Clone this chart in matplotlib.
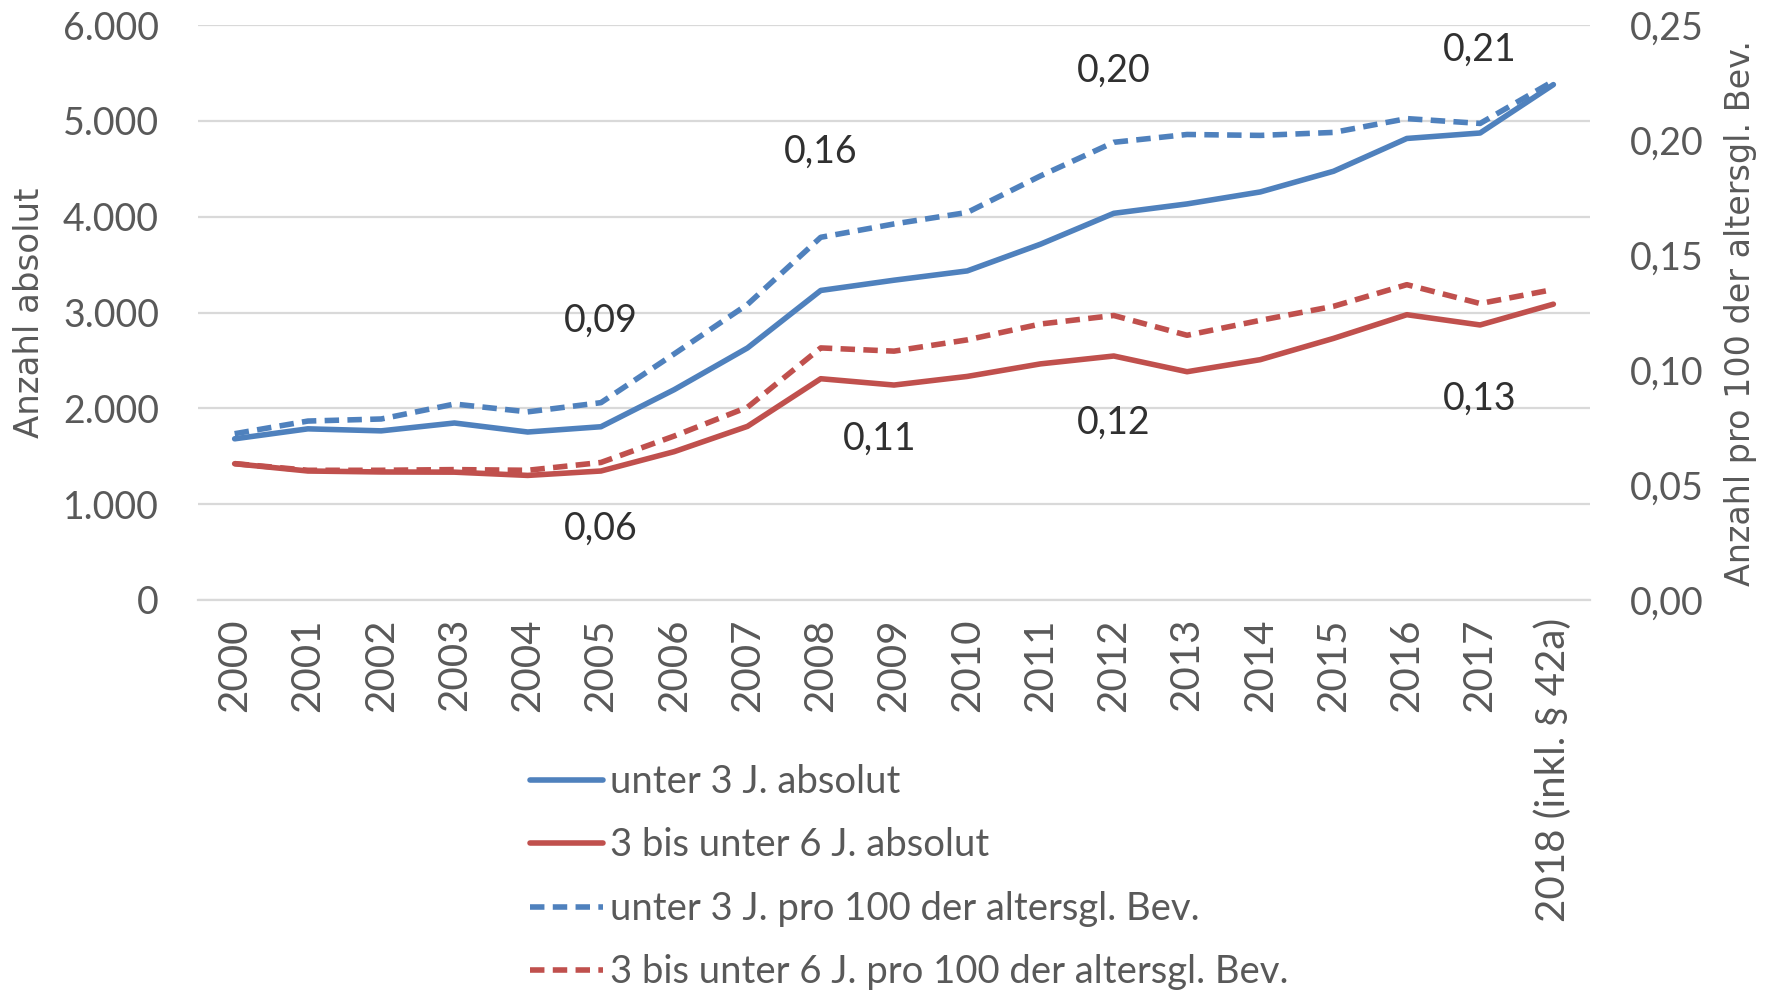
import matplotlib
matplotlib.use("Agg")
import matplotlib.pyplot as plt

years = ["2000", "2001", "2002", "2003", "2004", "2005", "2006", "2007", "2008",
         "2009", "2010", "2011", "2012", "2013", "2014", "2015", "2016", "2017",
         "2018 (inkl. § 42a)"]

u3_abs = [1682, 1786, 1765, 1847, 1753, 1808, 2195, 2630, 3230, 3337, 3434,
          3713, 4035, 4133, 4258, 4474, 4816, 4873, 5378]
u6_abs = [1422, 1346, 1336, 1334, 1300, 1346, 1548, 1812, 2309, 2243, 2333,
          2464, 2546, 2382, 2508, 2730, 2977, 2870, 3087]
u3_rate = [0.0723, 0.0778, 0.0787, 0.0852, 0.0818, 0.0858, 0.1070, 0.1285,
           0.1577, 0.1635, 0.1685, 0.1844, 0.1990, 0.2024, 0.2020, 0.2033,
           0.2093, 0.2072, 0.2256]
u6_rate = [0.0593, 0.0564, 0.0564, 0.0567, 0.0564, 0.0598, 0.0713, 0.0838,
           0.1096, 0.1082, 0.1131, 0.1200, 0.1237, 0.1151, 0.1216, 0.1277,
           0.1371, 0.1289, 0.1350]

series_names = ["unter 3 J. absolut", "3 bis unter 6 J. absolut",
                "unter 3 J. pro 100 der altersgl. Bev.",
                "3 bis unter 6 J. pro 100 der altersgl. Bev."]

left_ticks = [0, 1000, 2000, 3000, 4000, 5000, 6000]
left_labels = ["0", "1.000", "2.000", "3.000", "4.000", "5.000", "6.000"]
right_ticks = [0.0, 0.05, 0.10, 0.15, 0.20, 0.25]
right_labels = ["0,00", "0,05", "0,10", "0,15", "0,20", "0,25"]

# data labels: (x position in category units, y position on right axis, text)
label_x = [5, 8, 12, 17, 5, 8.8, 12, 17]
label_y = [0.1213, 0.1948, 0.2303, 0.2391, 0.0311, 0.0700, 0.0769, 0.0873]
label_txt = ["0,09", "0,16", "0,20", "0,21", "0,06", "0,11", "0,12", "0,13"]

BLUE = "#4F81BD"
RED = "#C0504D"
TXT = "#595959"
FONT = ["Lato", "DejaVu Sans"]
TITLEFONT = ["DejaVu Sans"]

plt.rcParams["font.family"] = FONT

fig = plt.figure(figsize=(17.78, 9.90), dpi=100)
ax = fig.add_axes([198 / 1778, 1 - 600 / 990, (1590 - 198) / 1778, (600 - 25) / 990])
ax2 = ax.twinx()

x = list(range(len(years)))
lw = 4.0
dash = (0, (2.6, 1.5))
l1, = ax.plot(x, u3_abs, color=BLUE, lw=lw, solid_capstyle="round", solid_joinstyle="round")
l2, = ax.plot(x, u6_abs, color=RED, lw=lw, solid_capstyle="round", solid_joinstyle="round")
l3, = ax2.plot(x, u3_rate, color=BLUE, lw=lw, linestyle=dash)
l4, = ax2.plot(x, u6_rate, color=RED, lw=lw, linestyle=dash)

ax.set_xlim(-0.5, len(years) - 0.5)
ax.set_ylim(0, 6000)
ax2.set_ylim(0, 0.25)

ax.set_yticks(left_ticks)
ax.set_yticklabels(left_labels)
ax2.set_yticks(right_ticks)
ax2.set_yticklabels(right_labels)
ax.set_xticks(x)
ax.set_xticklabels(years, rotation=90)

ax.grid(axis="y", color="#D9D9D9", lw=1.6)
ax.set_axisbelow(True)
for a in (ax, ax2):
    for s in a.spines.values():
        s.set_visible(False)
ax.spines["bottom"].set_visible(True)
ax.spines["bottom"].set_color("#D9D9D9")
ax.spines["bottom"].set_linewidth(1.6)

ax.tick_params(axis="y", length=0, pad=28, labelsize=27, labelcolor=TXT)
ax2.tick_params(axis="y", length=0, pad=29, labelsize=27, labelcolor=TXT)
ax.tick_params(axis="x", length=0, pad=13, labelsize=29, labelcolor=TXT)

ax.set_ylabel("Anzahl absolut", fontsize=24.5, color=TXT, family=TITLEFONT, labelpad=12)
ax2.set_ylabel("Anzahl pro 100 der altersgl. Bev.", fontsize=24, color=TXT,
               family=TITLEFONT, labelpad=14)

for lx, ly, lt in zip(label_x, label_y, label_txt):
    ax2.text(lx, ly, lt, ha="center", va="center", fontsize=27, color="#303030")

fig.legend([l1, l2, l3, l4], series_names, loc="upper left",
           bbox_to_anchor=(530 / 1778, 1 - 764 / 990), frameon=False,
           fontsize=27.5, handlelength=1.9, handletextpad=0.2, labelspacing=0.72,
           labelcolor=TXT, borderaxespad=0, borderpad=0)

fig.savefig("out.png", dpi=100)
